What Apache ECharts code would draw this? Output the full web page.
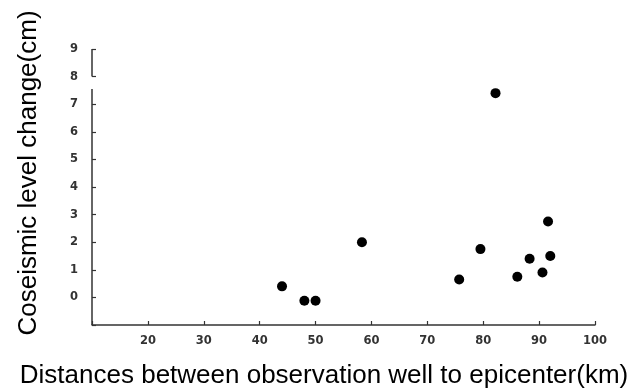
<!DOCTYPE html>
<html>
<head>
<meta charset="utf-8">
<script src="https://cdn.jsdelivr.net/npm/echarts@6/dist/echarts.min.js"></script>
<style>
html,body{margin:0;padding:0;background:#fff;}
#main{width:638px;height:389px;}
</style>
</head>
<body>
<div id="main"></div>
<script>
// Distance to epicenter (km)
var distances = [44, 48, 50, 58.3, 75.7, 79.5, 82.2, 86.1, 88.3, 90.6, 91.6, 92.0];
// Coseismic level change (cm)
var levelChanges = [0.4, -0.12, -0.12, 2.0, 0.65, 1.75, 7.4, 0.75, 1.4, 0.9, 2.75, 1.5];
var xTicks = [20, 30, 40, 50, 60, 70, 80, 90, 100];
var yTicks = [0, 1, 2, 3, 4, 5, 6, 7, 8, 9];
var xTitle = 'Distances between observation well to epicenter(km)';
var yTitle = 'Coseismic level change(cm)';

var X_MIN = 10, X_MAX = 100, Y_MIN = -1, Y_MAX = 9;
var Y_BREAK_FROM = 7.55, Y_BREAK_TO = 8; // broken y axis as in the original figure

var points = distances.map(function (d, i) { return [d, levelChanges[i]]; });

var chart = echarts.init(document.getElementById('main'));
chart.setOption({
  animation: false,
  backgroundColor: '#fff',
  grid: { left: 92, right: 43, top: 49, bottom: 64, containLabel: false, outerBoundsMode: 'none' },
  graphic: [
    {
      type: 'text', x: 324, y: 376,
      style: { text: xTitle, fontFamily: 'Liberation Sans, Arial', fontSize: 26, fill: '#000',
               textAlign: 'center', textVerticalAlign: 'middle' }
    },
    {
      type: 'text', x: 29, y: 173, rotation: Math.PI / 2,
      style: { text: yTitle, fontFamily: 'Liberation Sans, Arial', fontSize: 26, fill: '#000',
               textAlign: 'center', textVerticalAlign: 'middle' }
    }
  ],
  xAxis: {
    type: 'value', min: X_MIN, max: X_MAX, interval: 10,
    axisLine: { show: true, onZero: false, lineStyle: { color: '#333', width: 1.5 } },
    axisTick: { show: true, inside: true, length: 4, lineStyle: { color: '#333', width: 1.2 } },
    splitLine: { show: false },
    axisLabel: {
      margin: 10, color: '#333', fontFamily: 'DejaVu Sans', fontWeight: 'bold', fontSize: 11.5,
      formatter: function (v) { return xTicks.indexOf(v) >= 0 ? String(v) : ''; }
    }
  },
  yAxis: {
    type: 'value', min: Y_MIN, max: Y_MAX, interval: 1,
    axisLine: { show: false },
    axisTick: { show: true, inside: true, length: 4, lineStyle: { color: '#333', width: 1.2 } },
    splitLine: { show: false },
    axisLabel: {
      margin: 14, color: '#333', fontFamily: 'DejaVu Sans', fontWeight: 'bold', fontSize: 11.5,
      formatter: function (v) { return yTicks.indexOf(v) >= 0 ? String(v) : ''; }
    }
  },
  series: [{
    type: 'scatter',
    data: points,
    symbol: 'circle',
    symbolSize: 10,
    itemStyle: { color: '#000', opacity: 1 },
    markLine: {
      silent: true,
      symbol: 'none',
      label: { show: false },
      lineStyle: { color: '#333', width: 1.5, type: 'solid' },
      data: [
        [{ coord: [X_MIN, Y_MIN] }, { coord: [X_MIN, Y_BREAK_FROM] }],
        [{ coord: [X_MIN, Y_BREAK_TO] }, { coord: [X_MIN, Y_MAX] }]
      ]
    }
  }]
});
</script>
</body>
</html>
